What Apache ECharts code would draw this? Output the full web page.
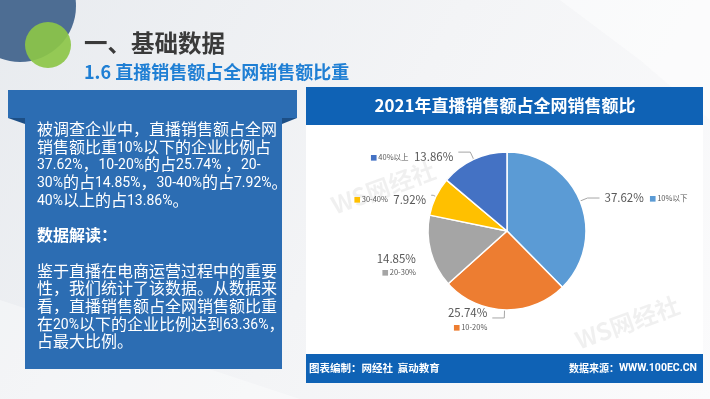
<!DOCTYPE html>
<html>
<head>
<meta charset="utf-8">
<script src="https://cdn.jsdelivr.net/npm/echarts@6/dist/echarts.min.js"></script>
<style>
  html, body { margin: 0; padding: 0; }
  #chart { width: 710px; height: 399px; }
</style>
</head>
<body>
<div id="chart"></div>
<script>
var categories = ['10%以下', '10-20%', '20-30%', '30-40%', '40%以上'];
var values = [37.62, 25.74, 14.85, 7.92, 13.86];
var colors = ['#5b9bd5', '#ed7d31', '#a5a5a5', '#ffc000', '#4472c4'];

var para1 = [
    '被调查企业中，直播销售额占全网',
    '销售额比重10%以下的企业比例占',
    '37.62%，10-20%的占25.74% ，20-',
    '30%的占14.85%，30-40%的占7.92%。',
    '40%以上的占13.86%。'
];
var para2Title = '数据解读：';
var para2 = [
    '鉴于直播在电商运营过程中的重要',
    '性，我们统计了该数据。从数据来',
    '看，直播销售额占全网销售额比重',
    '在20%以下的企业比例达到63.36%，',
    '占最大比例。'
];

var font = '"Noto Sans CJK SC", "Noto Sans", sans-serif';
var chart = echarts.init(document.getElementById('chart'));

// latin runs get a narrower font so the lines fit like the original
function latinRuns(s) {
    return s.replace(/[\x20-\x7e]+/g, function (m) { return '{a|' + m + '}'; });
}
var bodyText = para1.map(latinRuns)
    .concat(['', '{b|' + para2Title + '}', ''])
    .concat(para2.map(latinRuns))
    .join('\n');

// rich styles for the little colour squares next to each label
var rich = {
    v: { fontSize: 11.5, color: '#595959', fontFamily: font },
    n: { fontSize: 7.5, color: '#595959', fontFamily: font, padding: [0, 0, 0, 1] }
};
colors.forEach(function (c, i) {
    rich['s' + i] = { fontSize: 7, color: c };
});

function labelText(p) {
    var i = p.dataIndex;
    var v = '{v|' + p.value.toFixed(2) + '%}';
    var sq = '{s' + i + '|■}{n|' + p.name + '}';
    if (i == 0) return v + '  ' + sq;
    if (i == 1 || i == 2) return v + '\n' + sq;
    return sq + '  ' + v;
}

// small per-slice tweaks of label placement
var labelPad = [[0, 0, 0, 0], [4, 0, 0, 0], [24, 0, 0, 0], [8, 0, 0, 0], [10, 0, 0, 0]];
var lineLen = [[8, 12], [8, 12], [6, 4], [3, 2], [8, 12]];

var data = categories.map(function (name, i) {
    return {
        name: name,
        value: values[i],
        itemStyle: { color: colors[i] },
        label: { padding: labelPad[i] },
        labelLine: { length: lineLen[i][0], length2: lineLen[i][1], show: i != 2 }
    };
});

chart.setOption({
    animation: false,
    textStyle: { fontFamily: font },
    graphic: [
        // background
        { type: 'rect', z: -10, shape: { x: 0, y: 0, width: 710, height: 399 },
          style: { fill: new echarts.graphic.LinearGradient(0, 0, 1, 1, [
              { offset: 0, color: '#e8ebef' }, { offset: 0.5, color: '#f3f4f6' }, { offset: 1, color: '#fbfbfc' }]) } },
        { type: 'polygon', z: -9, shape: { points: [[560, 0], [710, 0], [710, 120], [640, 60]] },
          style: { fill: 'rgba(255,255,255,0.45)' } },
        { type: 'polygon', z: -9, shape: { points: [[0, 300], [300, 399], [0, 399]] },
          style: { fill: 'rgba(255,255,255,0.35)' } },
        // corner circles
        { type: 'circle', z: -5, shape: { cx: 20, cy: 6, r: 56 }, style: { fill: '#4d6d93' } },
        { type: 'circle', z: -4, shape: { cx: 48, cy: 45, r: 23 }, style: { fill: 'rgba(140,198,72,0.92)' } },
        // headings
        { type: 'text', left: 84, top: 31, style: { text: '一、基础数据', fill: '#3a3a3a',
          font: 'bold 23.5px ' + font } },
        { type: 'text', left: 84, top: 63, style: { text: '1.6 直播销售额占全网销售额比重', fill: '#1f7fd4',
          font: 'bold 18px ' + font } },
        // left text box
        { type: 'polygon', shape: { points: [[8, 118], [25, 118], [25, 124]] }, style: { fill: '#1d4f86' } },
        { type: 'polygon', shape: { points: [[297, 118], [282, 118], [282, 124]] }, style: { fill: '#1d4f86' } },
        { type: 'rect', shape: { x: 8, y: 90, width: 289, height: 28 }, style: { fill: '#2c6db3' } },
        { type: 'rect', shape: { x: 25, y: 110, width: 257, height: 259 }, style: { fill: '#2c6db3' } },
        { type: 'text', left: 37, top: 120, style: {
            text: bodyText, fill: '#ffffff', font: '16px ' + font, lineHeight: 17.7,
            rich: {
                a: { fontFamily: 'Roboto, sans-serif', fontSize: 14, fill: '#ffffff', lineHeight: 17.7,
                     verticalAlign: 'middle', padding: [3, 0, 0, 0] },
                b: { fontWeight: 'bold', fontSize: 16, fill: '#ffffff', fontFamily: font, lineHeight: 17.7 }
            } } },
        // right chart panel
        { type: 'rect', z: -1, shape: { x: 306, y: 87, width: 397, height: 296 }, style: { fill: '#ffffff' } },
        { type: 'rect', shape: { x: 306, y: 87, width: 397, height: 38 }, style: { fill: '#0f62b5' } },
        { type: 'text', x: 505, y: 106, style: { text: '2021年直播销售额占全网销售额比', fill: '#ffffff',
          font: 'bold 17px ' + font, align: 'center', verticalAlign: 'middle' } },
        { type: 'rect', shape: { x: 306, y: 354, width: 397, height: 29 }, style: { fill: '#0f62b5' } },
        { type: 'text', x: 309, y: 368, style: { text: '图表编制：网经社  赢动教育', fill: '#ffffff',
          font: 'bold 10.5px ' + font, verticalAlign: 'middle' } },
        { type: 'text', x: 697, y: 368, style: {
            text: '{c|数据来源：}{l|WWW.100EC.CN}', fill: '#ffffff', align: 'right', verticalAlign: 'middle',
            rich: {
                c: { fontFamily: font, fontWeight: 'bold', fontSize: 10, fill: '#ffffff' },
                l: { fontFamily: 'Roboto, sans-serif', fontWeight: 'bold', fontSize: 10.5, fill: '#ffffff' }
            } } },
        // faint watermarks
        { type: 'text', x: 328, y: 195, rotation: 0.35, z: 0, style: { text: 'WS网经社', fill: 'rgba(0,0,0,0.06)',
          font: 'bold 24px ' + font } },
        { type: 'text', x: 572, y: 330, rotation: 0.35, z: 0, style: { text: 'WS网经社', fill: 'rgba(0,0,0,0.06)',
          font: 'bold 24px ' + font } }
    ],
    series: [{
        type: 'pie',
        z: 5,
        center: [507, 231],
        radius: 79,
        startAngle: 90,
        clockwise: true,
        data: data,
        itemStyle: { borderColor: '#ffffff', borderWidth: 1.5 },
        label: {
            show: true,
            formatter: labelText,
            rich: rich,
            lineHeight: 14
        },
        labelLine: {
            lineStyle: { color: '#a6a6a6', width: 1 }
        }
    }]
});
</script>
</body>
</html>
